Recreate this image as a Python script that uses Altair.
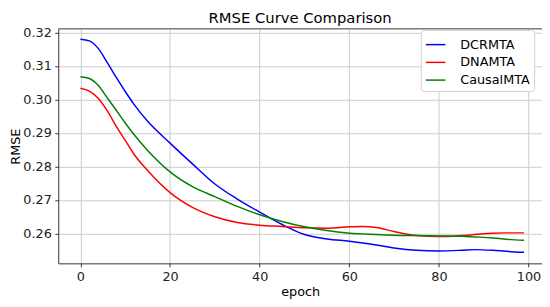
import altair as alt
import pandas as pd

epochs = [0, 2, 4, 6, 8, 10, 12, 15, 20, 25, 30, 35, 40, 45, 50, 55, 60, 63, 66, 70, 75, 80, 85, 88, 92, 95, 99]

dcrmta = [0.3180, 0.3175, 0.3152, 0.3110, 0.3066, 0.3024, 0.2985, 0.2935, 0.2870, 0.2808,
          0.2748, 0.2703, 0.2664, 0.2627, 0.2597, 0.2584, 0.2577, 0.2572, 0.2566, 0.2557,
          0.2550, 0.2548, 0.2550, 0.2552, 0.2550, 0.2547, 0.2544]
dnamta = [0.3034, 0.3025, 0.3003, 0.2966, 0.2920, 0.2878, 0.2836, 0.2788, 0.2722, 0.2678,
          0.2650, 0.2633, 0.2625, 0.2621, 0.2617, 0.2616, 0.2620, 0.2621, 0.2618, 0.2606,
          0.2594, 0.2591, 0.2594, 0.2597, 0.2601, 0.2602, 0.2602]
causalmta = [0.3068, 0.3063, 0.3042, 0.3005, 0.2968, 0.2930, 0.2895, 0.2848, 0.2784, 0.2740,
             0.2710, 0.2681, 0.2656, 0.2636, 0.2620, 0.2609, 0.2601, 0.2599, 0.2597, 0.2595,
             0.2594, 0.2593, 0.2592, 0.2590, 0.2587, 0.2583, 0.2580]

series_names = ["DCRMTA", "DNAMTA", "CausalMTA"]
series_colors = ["#0000ff", "#ff0000", "#008000"]
x_ticks = [0, 20, 40, 60, 80, 100]
y_ticks = [0.26, 0.27, 0.28, 0.29, 0.30, 0.31, 0.32]

rows = []
for name, vals in zip(series_names, [dcrmta, dnamta, causalmta]):
    for e, v in zip(epochs, vals):
        rows.append({"epoch": e, "RMSE": v, "model": name})
df = pd.DataFrame(rows)

FONT = "DejaVu Sans"
W, H = 491, 238

lines = alt.Chart(df).mark_line(strokeWidth=1.5, interpolate="monotone", clip=True).encode(
    x=alt.X("epoch:Q", scale=alt.Scale(domain=[-4.95, 103.0], nice=False, zero=False),
            axis=alt.Axis(values=x_ticks, title="epoch", format="d")),
    y=alt.Y("RMSE:Q", scale=alt.Scale(domain=[0.2511, 0.3211], nice=False, zero=False),
            axis=alt.Axis(values=y_ticks, title="RMSE", format=".2f")),
    color=alt.Color("model:N", sort=series_names,
                    scale=alt.Scale(domain=series_names, range=series_colors),
                    legend=alt.Legend(title=None, orient="none", legendX=368, legendY=1,
                                      symbolType="stroke", symbolSize=400, symbolStrokeWidth=1.5,
                                      labelFontSize=13, labelFont=FONT, labelColor="#000",
                                      strokeColor="#d0d0d0", fillColor="white", cornerRadius=3,
                                      padding=4, rowPadding=-0.3, labelOffset=14)),
)

top_spine = alt.Chart(pd.DataFrame({"a": [0]})).mark_rule(color="#333", strokeWidth=1).encode(
    x=alt.value(0), x2=alt.value(W), y=alt.value(0)
)

chart = alt.layer(lines, top_spine).properties(
    width=W, height=H,
    title=alt.TitleParams("RMSE Curve Comparison", font=FONT, fontSize=15, fontWeight="normal",
                          color="#000", offset=1),
    autosize=alt.AutoSizeParams(type="none"),
    padding={"left": 51, "top": 19, "right": 0, "bottom": 34},
).configure_view(stroke=None).configure_axis(
    labelFont=FONT, labelFontSize=13, labelColor="#222",
    titleFont=FONT, titleFontSize=13, titleFontWeight="normal", titleColor="#000",
    domainColor="#333", tickColor="#333", tickSize=3.5, labelPadding=3.5,
    gridColor="#cccccc", gridWidth=1,
).configure_axisX(titlePadding=3).configure_axisY(titlePadding=0)

chart.save("out.html", embed_options={"renderer": "svg", "actions": False})
